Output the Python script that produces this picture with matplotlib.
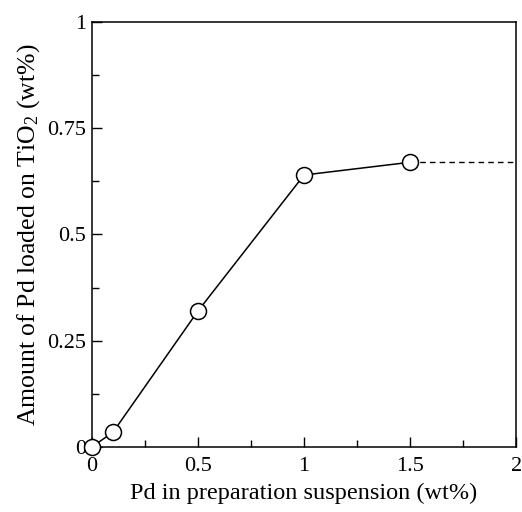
import matplotlib
matplotlib.use('Agg')
import matplotlib.pyplot as plt
from matplotlib.ticker import MultipleLocator

plt.rcParams['font.family'] = ['Liberation Serif', 'DejaVu Serif']
plt.rcParams['mathtext.default'] = 'regular'

# Data
pd_suspension = [0, 0.1, 0.5, 1.0, 1.5]
pd_loaded = [0, 0.035, 0.32, 0.64, 0.67]
plateau_x = [1.5, 2.0]
plateau_y = [0.67, 0.67]
x_ticks = [0, 0.5, 1, 1.5, 2]
x_labels = ['0', '0.5', '1', '1.5', '2']
y_ticks = [0, 0.25, 0.5, 0.75, 1]
y_labels = ['0', '0.25', '0.5', '0.75', '1']

fig = plt.figure(figsize=(5.22, 5.12), dpi=100)
ax = fig.add_axes([0.176, 0.127, 0.813, 0.83])

ax.plot(plateau_x, plateau_y, color='black', linestyle='--', linewidth=1, dashes=(4, 3))
ax.plot(pd_suspension, pd_loaded, color='black', linewidth=1.1, marker='o',
        markersize=11.5, markerfacecolor='white', markeredgecolor='black',
        markeredgewidth=1.1, clip_on=False, zorder=5)

ax.set_xlim(0, 2)
ax.set_ylim(0, 1)
ax.set_xticks(x_ticks)
ax.set_xticklabels(x_labels)
ax.set_yticks(y_ticks)
ax.set_yticklabels(y_labels)
ax.xaxis.set_minor_locator(MultipleLocator(0.25))
ax.yaxis.set_minor_locator(MultipleLocator(0.125))
ax.tick_params(which='major', direction='in', length=7, width=1, labelsize=16, pad=4)
ax.tick_params(axis='x', which='major', pad=7)
ax.tick_params(which='minor', direction='in', length=5, width=1)
for s in ax.spines.values():
    s.set_linewidth(1.1)

ax.set_xlabel('Pd in preparation suspension (wt%)', fontsize=17.5, labelpad=5)
ax.set_ylabel('Amount of Pd loaded on TiO$_2$ (wt%)', fontsize=18.5, labelpad=4)

fig.savefig('out.png', dpi=100)
